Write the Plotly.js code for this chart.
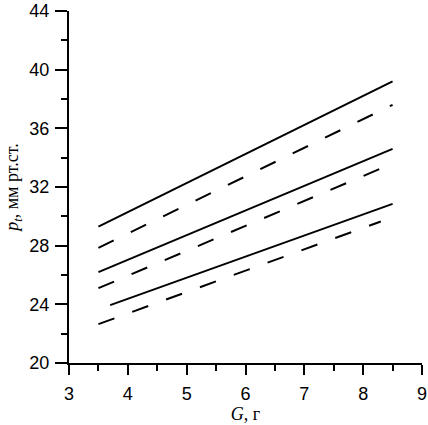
<!DOCTYPE html>
<html>
<head>
<meta charset="utf-8">
<script src="https://cdn.plot.ly/plotly-3.0.1.min.js"></script>
<style>
  html, body { margin: 0; padding: 0; background: #fff; }
  #plot { width: 428px; height: 425px; }
</style>
</head>
<body>
<div id="plot"></div>
<script>
// lines: start and end of each series
const solidX1 = [3.5, 8.5];
const solidY1 = [29.3, 39.2];
const dashX1 = [3.5, 8.5];
const dashY1 = [27.85, 37.6];
const solidX2 = [3.5, 8.5];
const solidY2 = [26.2, 34.6];
const dashX2 = [3.5, 8.5];
const dashY2 = [25.1, 33.6];
const solidX3 = [3.7, 8.5];
const solidY3 = [23.95, 30.85];
const dashX3 = [3.5, 8.3];
const dashY3 = [22.65, 29.65];

const xTicks = [3, 4, 5, 6, 7, 8, 9];
const yTicks = [20, 24, 28, 32, 36, 40, 44];

function line(x, y, dashed) {
  return {
    x: x,
    y: y,
    type: 'scatter',
    mode: 'lines',
    line: { color: '#000', width: 2, dash: dashed ? '17px,19px' : 'solid' },
    hoverinfo: 'skip'
  };
}

const traces = [
  line(solidX1, solidY1, false),
  line(dashX1, dashY1, true),
  line(solidX2, solidY2, false),
  line(dashX2, dashY2, true),
  line(solidX3, solidY3, false),
  line(dashX3, dashY3, true)
];

const tickFont = { family: 'Liberation Sans, Arial, sans-serif', size: 18, color: '#000' };
const titleFont = { family: 'Liberation Serif, Times New Roman, serif', size: 18, color: '#000' };

const layout = {
  width: 428,
  height: 425,
  margin: { l: 69, r: 6, t: 11, b: 62 },
  paper_bgcolor: '#fff',
  plot_bgcolor: '#fff',
  showlegend: false,
  xaxis: {
    range: [3, 9],
    tickmode: 'array',
    tickvals: xTicks,
    ticktext: xTicks.map(String),
    ticks: 'outside',
    ticklen: 10,
    tickwidth: 2,
    tickcolor: '#000',
    ticklabelstandoff: 3,
    minor: { ticks: 'outside', ticklen: 6, tickwidth: 2, tickcolor: '#000', dtick: 0.5, tick0: 3 },
    showline: true,
    linewidth: 2,
    linecolor: '#000',
    showgrid: false,
    zeroline: false,
    tickfont: tickFont,
    title: { text: '<i>G</i>, г', font: titleFont, standoff: 4 }
  },
  yaxis: {
    range: [20, 44],
    tickmode: 'array',
    tickvals: yTicks,
    ticktext: yTicks.map(String),
    ticks: 'outside',
    ticklen: 12,
    tickwidth: 2,
    tickcolor: '#000',
    ticklabelstandoff: 2,
    minor: { ticks: 'outside', ticklen: 6, tickwidth: 2, tickcolor: '#000', dtick: 2, tick0: 20 },
    showline: true,
    linewidth: 2,
    linecolor: '#000',
    showgrid: false,
    zeroline: false,
    tickfont: tickFont,
    title: { text: '<i>p<sub>t</sub></i>, мм рт.ст.', font: titleFont, standoff: 6 }
  }
};

Plotly.newPlot('plot', traces, layout, { staticPlot: true, displayModeBar: false });
</script>
</body>
</html>
